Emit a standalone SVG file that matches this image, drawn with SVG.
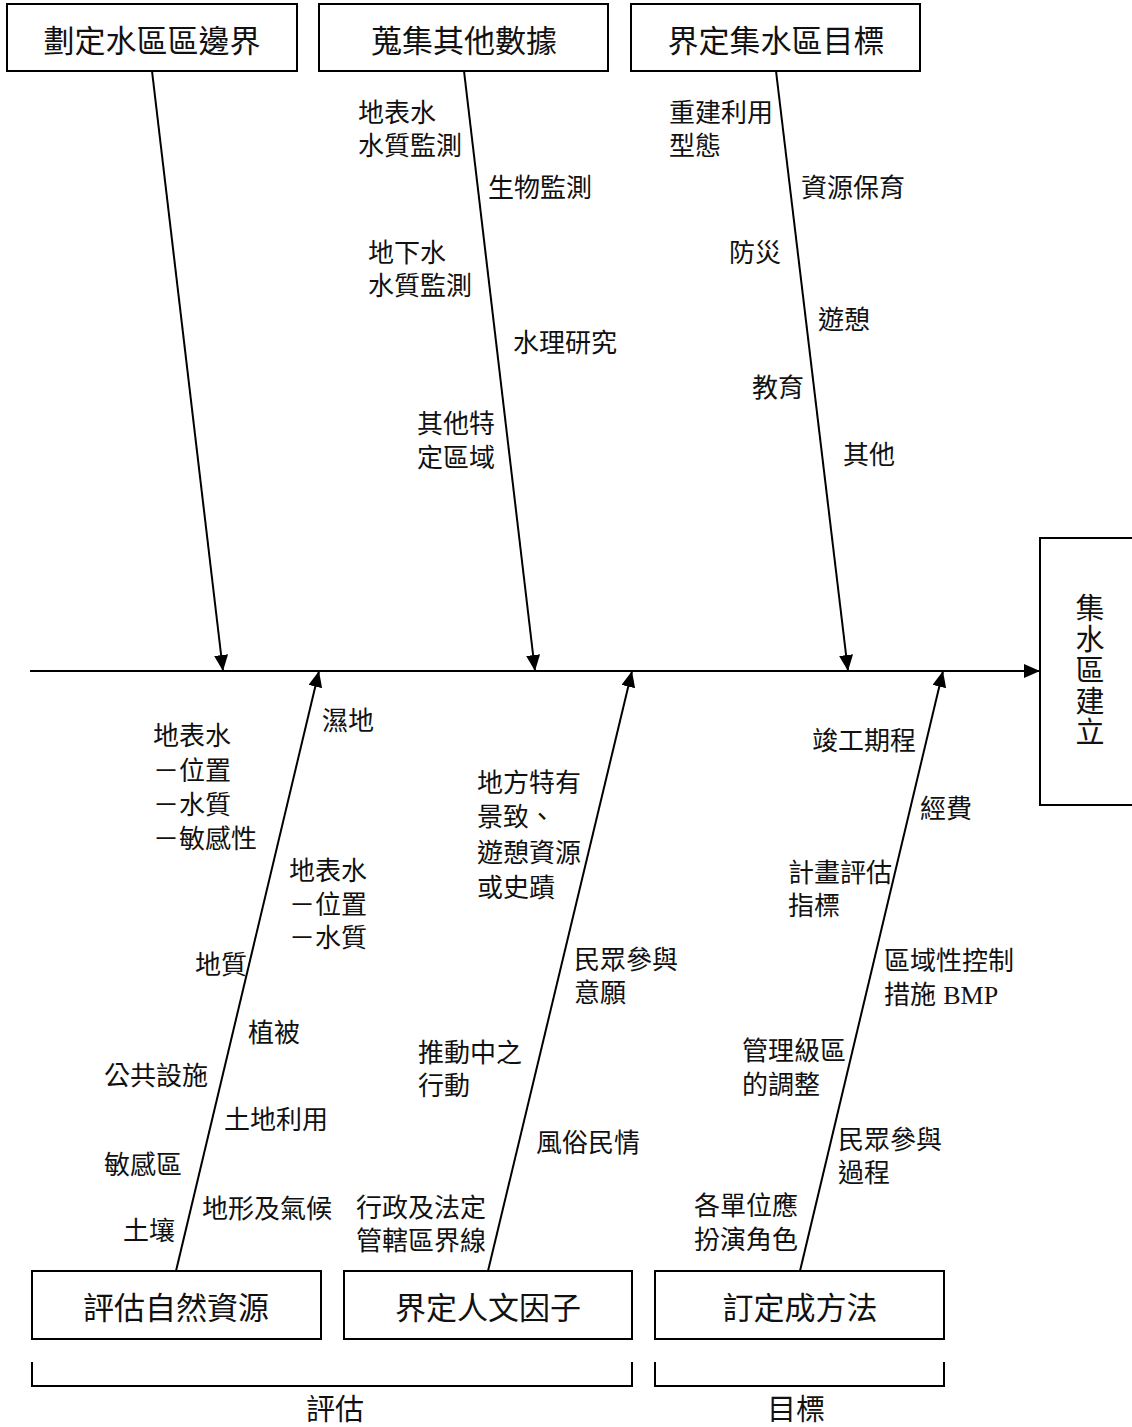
<svg xmlns="http://www.w3.org/2000/svg" width="1132" height="1427" viewBox="0 0 1132 1427">
<defs>
<marker id="ah" viewBox="0 0 16 14" refX="16" refY="7" markerWidth="16" markerHeight="14" markerUnits="userSpaceOnUse" orient="auto">
<path d="M0,0 L16,7 L0,14 Z" fill="#000"/>
</marker>
</defs>
<style>
.box{fill:#fff;stroke:#000;stroke-width:2}
.ln{stroke:#000;stroke-width:2;fill:none}
.bt{font-family:"Noto Sans CJK TC","Noto Sans CJK SC",sans-serif;font-size:31px;fill:#111;text-anchor:middle;dominant-baseline:central}
.vt{font-family:"Noto Sans CJK TC","Noto Sans CJK SC",sans-serif;font-size:29px;fill:#111;text-anchor:middle;dominant-baseline:central}
.vv{font-family:"Noto Sans CJK TC","Noto Sans CJK SC",sans-serif;font-size:29px;fill:#111;writing-mode:vertical-rl;letter-spacing:2px}
.lb{font-family:"Liberation Sans","Noto Sans CJK TC","Noto Sans CJK SC",sans-serif;font-size:26px;fill:#111;dominant-baseline:central}
.en{font-family:"Liberation Serif",serif}
</style>
<rect width="1132" height="1427" fill="#fff"/>

<g id="connectors">
<line class="ln" x1="30" y1="671" x2="1040" y2="671" marker-end="url(#ah)"/>
<line class="ln" x1="152" y1="71" x2="223" y2="671" marker-end="url(#ah)"/>
<line class="ln" x1="464" y1="71" x2="535" y2="671" marker-end="url(#ah)"/>
<line class="ln" x1="776" y1="71" x2="848" y2="671" marker-end="url(#ah)"/>
<line class="ln" x1="176" y1="1271" x2="319" y2="671" marker-end="url(#ah)"/>
<line class="ln" x1="488" y1="1271" x2="632" y2="671" marker-end="url(#ah)"/>
<line class="ln" x1="800" y1="1271" x2="943" y2="671" marker-end="url(#ah)"/>
</g>

<g id="node-boundary">
<rect class="box" x="7" y="4" width="290" height="67"/>
<text class="bt" x="152" y="38">劃定水區區邊界</text>
</g>
<g id="node-data">
<rect class="box" x="319" y="4" width="289" height="67"/>
<text class="bt" x="464" y="38">蒐集其他數據</text>
<text class="lb" x="358" y="113">地表水<tspan x="358" dy="33">水質監測</tspan></text>
<text class="lb" x="488" y="188">生物監測</text>
<text class="lb" x="368" y="253">地下水<tspan x="368" dy="33">水質監測</tspan></text>
<text class="lb" x="513" y="343">水理研究</text>
<text class="lb" x="417" y="424">其他特<tspan x="417" dy="34">定區域</tspan></text>
</g>
<g id="node-goals">
<rect class="box" x="631" y="4" width="289" height="67"/>
<text class="bt" x="776" y="38">界定集水區目標</text>
<text class="lb" x="669" y="113">重建利用<tspan x="669" dy="33">型態</tspan></text>
<text class="lb" x="801" y="188">資源保育</text>
<text class="lb" x="729" y="253">防災</text>
<text class="lb" x="818" y="320">遊憩</text>
<text class="lb" x="752" y="388">教育</text>
<text class="lb" x="843" y="455">其他</text>
</g>

<g id="node-result">
<rect class="box" x="1040" y="538" width="100" height="267"/>
<text class="vv" x="1090" y="593">集水區建立</text>
</g>

<g id="node-natural">
<rect class="box" x="32" y="1271" width="289" height="68"/>
<text class="bt" x="176" y="1305">評估自然資源</text>
<text class="lb" x="322" y="721">濕地</text>
<text class="lb" x="153" y="736">地表水<tspan x="153" dy="35">－位置</tspan><tspan x="153" dy="34">－水質</tspan><tspan x="153" dy="34">－敏感性</tspan></text>
<text class="lb" x="289" y="871">地表水<tspan x="289" dy="34">－位置</tspan><tspan x="289" dy="33">－水質</tspan></text>
<text class="lb" x="195" y="965">地質</text>
<text class="lb" x="248" y="1033">植被</text>
<text class="lb" x="104" y="1076">公共設施</text>
<text class="lb" x="224" y="1120">土地利用</text>
<text class="lb" x="104" y="1165">敏感區</text>
<text class="lb" x="202" y="1209">地形及氣候</text>
<text class="lb" x="123" y="1231">土壤</text>
</g>
<g id="node-human">
<rect class="box" x="344" y="1271" width="288" height="68"/>
<text class="bt" x="488" y="1305">界定人文因子</text>
<text class="lb" x="477" y="783">地方特有<tspan x="477" dy="34">景致、</tspan><tspan x="477" dy="36">遊憩資源</tspan><tspan x="477" dy="35">或史蹟</tspan></text>
<text class="lb" x="574" y="960">民眾參與<tspan x="574" dy="33">意願</tspan></text>
<text class="lb" x="418" y="1053">推動中之<tspan x="418" dy="33">行動</tspan></text>
<text class="lb" x="536" y="1143">風俗民情</text>
<text class="lb" x="356" y="1208">行政及法定<tspan x="356" dy="33">管轄區界線</tspan></text>
</g>
<g id="node-method">
<rect class="box" x="655" y="1271" width="289" height="68"/>
<text class="bt" x="800" y="1305">訂定成方法</text>
<text class="lb" x="812" y="741">竣工期程</text>
<text class="lb" x="920" y="809">經費</text>
<text class="lb" x="788" y="873">計畫評估<tspan x="788" dy="33">指標</tspan></text>
<text class="lb" x="884" y="961">區域性控制<tspan x="884" dy="34">措施 <tspan class="en">BMP</tspan></tspan></text>
<text class="lb" x="742" y="1051">管理級區<tspan x="742" dy="34">的調整</tspan></text>
<text class="lb" x="838" y="1140">民眾參與<tspan x="838" dy="33">過程</tspan></text>
<text class="lb" x="694" y="1206">各單位應<tspan x="694" dy="34">扮演角色</tspan></text>
</g>

<g id="bracket-eval">
<path class="ln" d="M32,1362 V1386 H632 V1362"/>
<text class="vt" x="335" y="1407">評估</text>
</g>
<g id="bracket-goal">
<path class="ln" d="M655,1362 V1386 H944 V1362"/>
<text class="vt" x="796" y="1407">目標</text>
</g>
</svg>
